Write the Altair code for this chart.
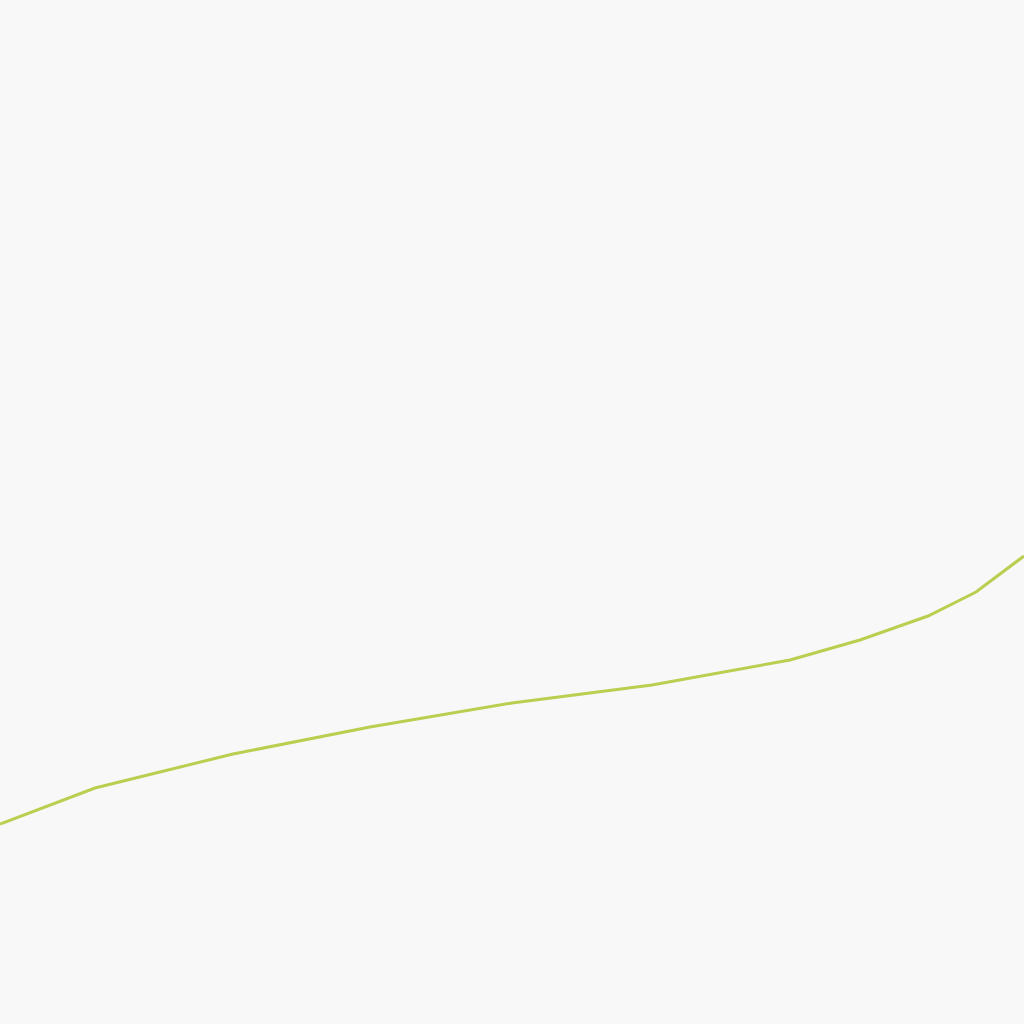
import altair as alt
import pandas as pd

xs = [0, 95, 233, 370, 512, 652, 790, 860, 928, 976, 1024]
ys = [200, 236, 270, 297, 321, 339, 364, 384, 408, 432, 468]

df = pd.DataFrame({"x": xs, "y": ys})

chart = alt.Chart(df).mark_line(color="#b8cf4f", strokeWidth=3, clip=True).encode(
    x=alt.X("x:Q", scale=alt.Scale(domain=[0, 1024], nice=False, zero=False), axis=None),
    y=alt.Y("y:Q", scale=alt.Scale(domain=[0, 1024], nice=False, zero=False), axis=None),
).properties(
    width=1024, height=1024, background="#f8f8f8", padding=0, autosize=alt.AutoSizeParams(type="none")
).configure_view(stroke=None)

chart.save("out.html", embed_options={"renderer": "svg", "actions": False})
